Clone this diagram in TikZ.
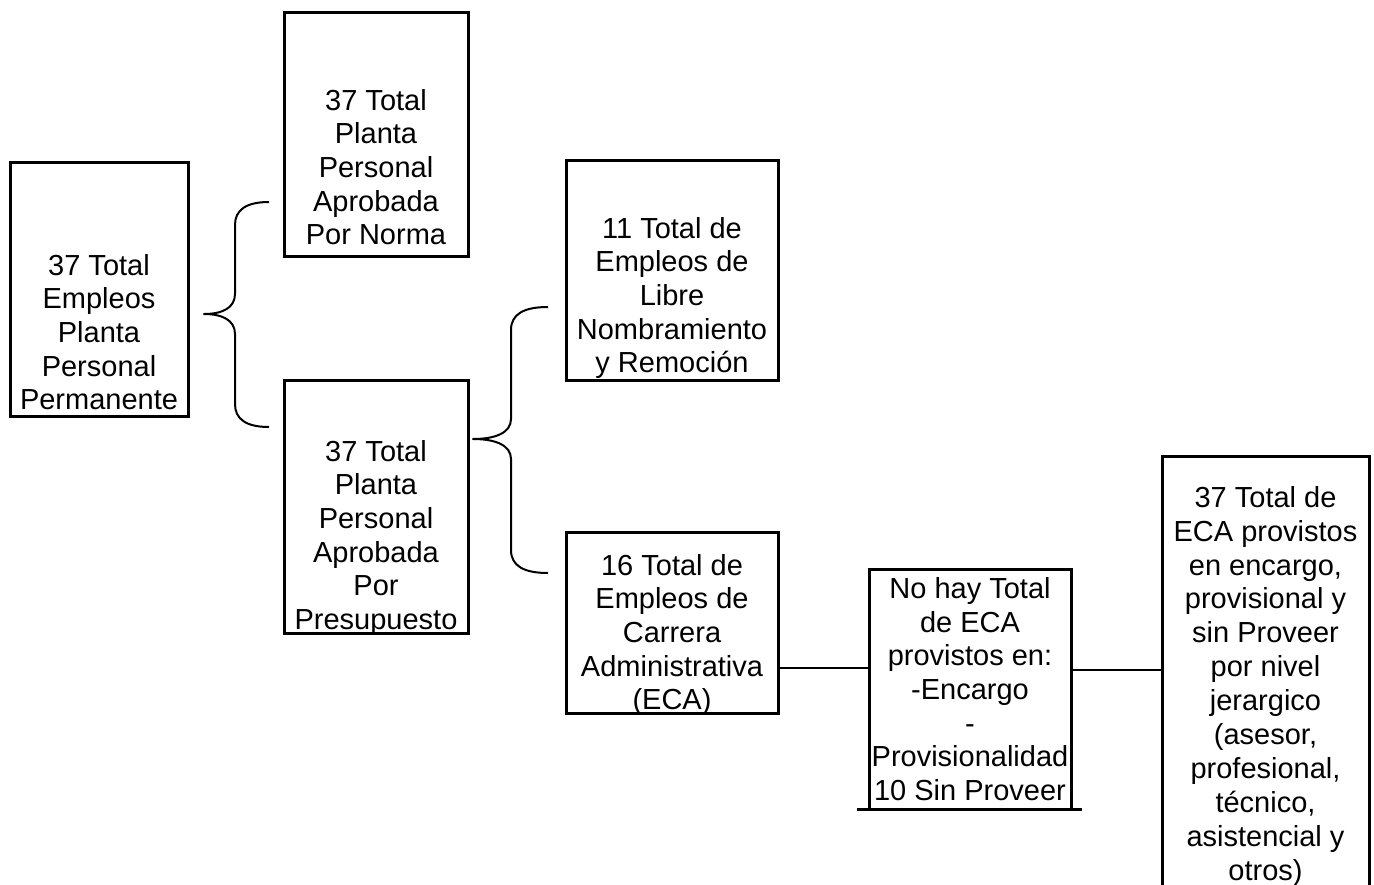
\documentclass[tikz,border=0pt]{standalone}
\usepackage{fontspec}
\setmainfont{Liberation Sans}
\begin{document}
\begin{tikzpicture}[x=1pt,y=-1pt,
  box/.style={draw=black, line width=3pt, rectangle, inner sep=0pt, fill=none},
  txt/.style={anchor=north, align=center, inner sep=0pt,
    font=\fontsize{29}{33.6}\selectfont, execute at begin node=\strut},
  brace/.style={draw=black, line width=2pt, line join=round},
  link/.style={draw=black, line width=2pt}]
\useasboundingbox (0,0) rectangle (1374,884);

% boxes (centre, width, height)
\node[box, minimum width=178, minimum height=254] (b1) at (99,289) {};
\node[box, minimum width=184, minimum height=244] (b2) at (376,134) {};
\node[box, minimum width=184, minimum height=253] (b3) at (376,506.5) {};
\node[box, minimum width=212, minimum height=220] (b4) at (672,270) {};
\node[box, minimum width=212, minimum height=181] (b5) at (672,622.5) {};
\node[box, minimum width=202, minimum height=240] (b6) at (970,689) {};
\node[box, minimum width=207, minimum height=470] (b7) at (1265.5,691) {};

% texts
\node[txt] (t1) at (99,254) {37 Total\\Empleos\\Planta\\Personal\\Permanente};
\node[txt] (t2) at (376,89) {37 Total\\Planta\\Personal\\Aprobada\\Por Norma};
\node[txt] (t3) at (376,440) {37 Total\\Planta\\Personal\\Aprobada\\Por\\Presupuesto};
\node[txt] (t4) at (672,217) {11 Total de\\Empleos de\\Libre\\Nombramiento\\y Remoción};
\node[txt] (t5) at (672,554) {16 Total de\\Empleos de\\Carrera\\Administrativa\\(ECA)};
\node[txt] (t6) at (970,577.5) {No hay Total\\de ECA\\provistos en:\\-Encargo\\-\\Provisionalidad\\10 Sin Proveer};
\node[txt, font=\fontsize{29}{33.9}\selectfont] (t7) at (1265.5,486)
  {37 Total de\\ECA provistos\\en encargo,\\provisional y\\sin Proveer\\por nivel\\jerargico\\(asesor,\\profesional,\\técnico,\\asistencial y\\otros)};

% brace from b1 to b2 and b3
\coordinate (p1) at (204,314);
\coordinate (p1a) at (269,202);
\coordinate (p1b) at (269,427);
\draw[brace] (p1a) .. controls (246,202) and (235,210) .. (235,225)
  -- (235,294) .. controls (235,308) and (222,314) .. (p1)
  .. controls (222,314) and (235,320) .. (235,334)
  -- (235,404) .. controls (235,419) and (246,427) .. (p1b);

% brace from b3 to b4 and b5
\coordinate (p2) at (473,439);
\coordinate (p2a) at (548,307);
\coordinate (p2b) at (548,573);
\draw[brace] (p2a) .. controls (524,307) and (511,314) .. (511,330)
  -- (511,419) .. controls (511,433) and (495,439) .. (p2)
  .. controls (495,439) and (511,445) .. (511,459)
  -- (511,550) .. controls (511,566) and (524,573) .. (p2b);

% straight connectors
\draw[link] (b5.east |- 0,668) -- (b6.west |- 0,668);
\draw[link] (b6.east |- 0,670) -- (b7.west |- 0,670);

% rule under b6
\coordinate (r1) at (857,809);
\coordinate (r2) at (1082,809);
\draw[black, line width=3pt] (r1) -- (r2);
\end{tikzpicture}
\end{document}
